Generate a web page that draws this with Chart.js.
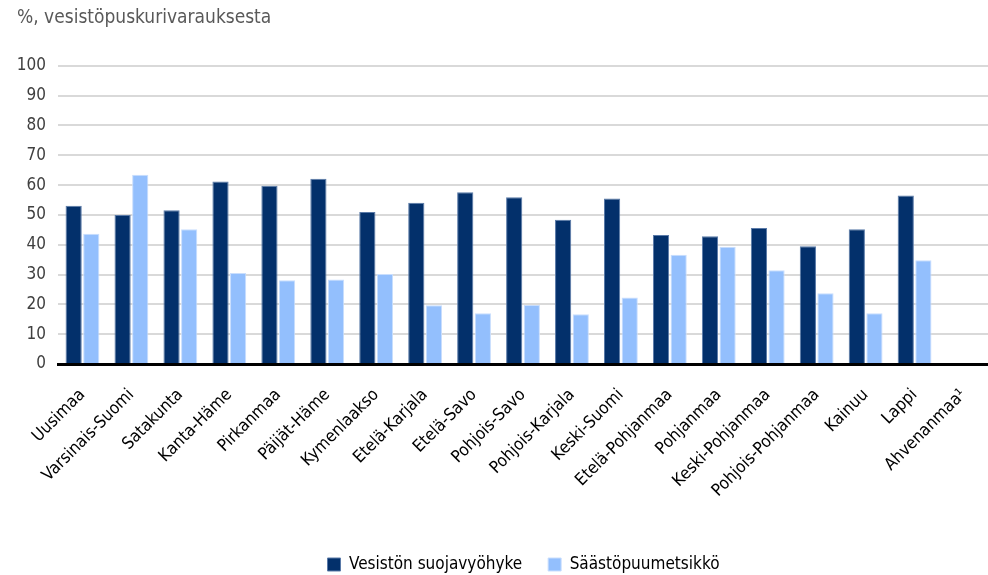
<!DOCTYPE html>
<html>
<head>
<meta charset="utf-8">
<script src="https://cdn.jsdelivr.net/npm/chart.js@4/dist/chart.umd.min.js"></script>
<style>
  html, body { margin: 0; padding: 0; background: #fff; }
  #wrap { width: 988px; height: 575px; }
</style>
</head>
<body>
<div id="wrap"><canvas id="myChart" width="988" height="575"></canvas></div>
<script>
// regions (categories)
var regions = ['Uusimaa', 'Varsinais-Suomi', 'Satakunta', 'Kanta-Häme', 'Pirkanmaa', 'Päijät-Häme',
  'Kymenlaakso', 'Etelä-Karjala', 'Etelä-Savo', 'Pohjois-Savo', 'Pohjois-Karjala', 'Keski-Suomi',
  'Etelä-Pohjanmaa', 'Pohjanmaa', 'Keski-Pohjanmaa', 'Pohjois-Pohjanmaa', 'Kainuu', 'Lappi', 'Ahvenanmaa¹'];

// % of the buffer reservation
var suojavyohyke = [53.1, 50.0, 51.6, 61.2, 59.8, 62.1, 51.0, 54.1, 57.6, 55.9, 48.4, 55.5,
  43.3, 42.8, 45.6, 39.5, 45.2, 56.5, null];
var saastopuumetsikko = [43.7, 63.5, 45.2, 30.5, 28.1, 28.3, 30.2, 19.7, 17.0, 19.8, 16.7, 22.3,
  36.6, 39.3, 31.4, 23.7, 17.0, 34.8, null];

var yTicks = [0, 10, 20, 30, 40, 50, 60, 70, 80, 90, 100];

var font = "'DejaVu Sans Condensed', 'Liberation Sans Narrow', sans-serif";

// nudge the legend to sit under the plot centre, a bit lower
var legendShift = {
  id: 'legendShift',
  afterLayout: function (chart) {
    var lg = chart.legend;
    lg.left += 21; lg.right += 21;
    lg.top += 8; lg.bottom += 8;
  }
};

var ctx = document.getElementById('myChart').getContext('2d');
var chart = new Chart(ctx, {
  type: 'bar',
  data: {
    labels: regions,
    datasets: [
      {
        label: 'Vesistön suojavyöhyke',
        backgroundColor: '#03306b',
        borderColor: '#5a7aa8',
        borderWidth: 1,
        data: suojavyohyke,
        barPercentage: 0.92,
        categoryPercentage: 0.72
      },
      {
        label: 'Säästöpuumetsikkö',
        backgroundColor: '#93bffd',
        borderColor: '#c9defd',
        borderWidth: 1,
        data: saastopuumetsikko,
        barPercentage: 0.92,
        categoryPercentage: 0.72
      }
    ]
  },
  plugins: [legendShift],
  options: {
    responsive: false,
    animation: false,
    layout: { padding: { left: 17, right: 0, top: 0, bottom: 0 } },
    plugins: {
      title: {
        display: true,
        text: '%, vesistöpuskurivarauksesta',
        align: 'start',
        color: '#595959',
        font: { family: font, size: 19, weight: 'normal' },
        padding: { top: 7, bottom: 36 }
      },
      legend: {
        position: 'bottom',
        labels: {
          color: '#000',
          font: { family: font, size: 17 },
          boxWidth: 13,
          boxHeight: 13,
          padding: 26,
          useBorderRadius: false
        }
      },
      tooltip: { enabled: false }
    },
    scales: {
      x: {
        grid: { display: false, drawTicks: false },
        border: { color: '#000', width: 3 },
        afterFit: function (axis) {
          axis.height = 158;
          axis.paddingLeft = 0;
          axis.paddingRight = 0;
        },
        ticks: {
          color: '#000',
          font: { family: font, size: 17 },
          minRotation: 45,
          maxRotation: 45,
          autoSkip: false,
          padding: 21
        }
      },
      y: {
        min: 0,
        max: 100,
        afterBuildTicks: function (axis) {
          axis.ticks = yTicks.map(function (v) { return { value: v }; });
        },
        afterFit: function (axis) { axis.width = 41; },
        grid: { color: '#d9d9d9', lineWidth: 2, drawTicks: false },
        border: { display: false },
        ticks: {
          color: '#404040',
          font: { family: font, size: 17 },
          padding: 12
        }
      }
    }
  }
});
</script>
</body>
</html>
